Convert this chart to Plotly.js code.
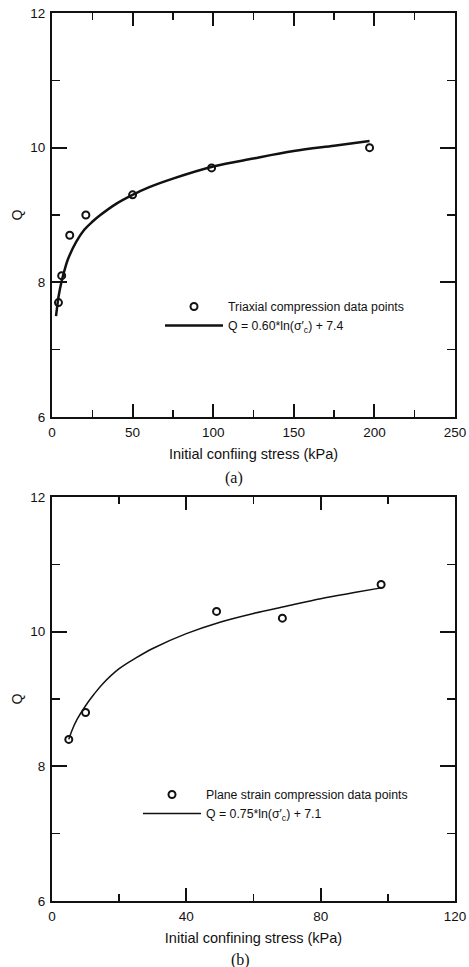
<!DOCTYPE html>
<html>
<head>
<meta charset="utf-8">
<script src="https://cdn.plot.ly/plotly-3.0.1.min.js"></script>
<style>
html,body{margin:0;padding:0;background:#fff;}
#chart{width:469px;height:967px;}
</style>
</head>
<body>
<div id="chart"></div>
<script>
// Panel (a): triaxial compression
const triaxStress = [4, 6, 11, 21, 50, 99, 197];
const triaxQ = [7.7, 8.1, 8.7, 9.0, 9.3, 9.7, 10.0];
const triaxFitStress = [2.5, 3, 4, 6, 8, 10, 15, 20, 25, 30, 40, 50, 60, 75, 100, 125, 150, 175, 197];
const triaxFitQ = [7.5, 7.6, 7.78, 8.02, 8.2, 8.35, 8.6, 8.78, 8.9, 9.0, 9.17, 9.3, 9.41, 9.54, 9.72, 9.84, 9.95, 10.03, 10.1];
const triaxName = "Triaxial compression data points";
const triaxFitName = "Q = 0.60*ln(σ′<sub>c</sub>) + 7.4";

// Panel (b): plane strain compression
const planeStress = [5, 10, 49, 68.6, 98];
const planeQ = [8.4, 8.8, 10.3, 10.2, 10.7];
const planeFitStress = [5, 6, 7.5, 10, 12.5, 15, 20, 25, 30, 40, 50, 60, 70, 80, 90, 98];
const planeFitQ = [8.4, 8.54, 8.7, 8.9, 9.07, 9.22, 9.45, 9.61, 9.75, 9.97, 10.14, 10.27, 10.38, 10.49, 10.58, 10.65];
const planeName = "Plane strain compression data points";
const planeFitName = "Q = 0.75*ln(σ′<sub>c</sub>) + 7.1";

const xTitleA = "Initial confiing stress (kPa)";
const xTitleB = "Initial confining stress (kPa)";
const yTitle = "Q";

const FONT = "Liberation Sans, Arial, sans-serif";
const INK = "#111";

const markerStyle = {symbol: "circle-open", size: 7, color: INK, line: {width: 2, color: INK}};

const traces = [
  {x: triaxStress, y: triaxQ, type: "scatter", mode: "markers", name: triaxName,
   marker: markerStyle, xaxis: "x", yaxis: "y", legend: "legend"},
  {x: triaxFitStress, y: triaxFitQ, type: "scatter", mode: "lines", name: triaxFitName,
   line: {color: INK, width: 2.5, shape: "spline", smoothing: 1}, xaxis: "x", yaxis: "y", legend: "legend"},
  {x: planeStress, y: planeQ, type: "scatter", mode: "markers", name: planeName,
   marker: markerStyle, xaxis: "x2", yaxis: "y2", legend: "legend2"},
  {x: planeFitStress, y: planeFitQ, type: "scatter", mode: "lines", name: planeFitName,
   line: {color: INK, width: 1.5, shape: "spline", smoothing: 1}, xaxis: "x2", yaxis: "y2", legend: "legend2"}
];

function xAxis(range, dtick, minorDtick, anchor, title) {
  return {
    range: range, dtick: dtick, tick0: 0, domain: [0, 1], anchor: anchor,
    ticks: "inside", ticklen: 13, tickwidth: 2, tickcolor: INK,
    minor: {dtick: minorDtick, ticks: "inside", ticklen: 7, tickwidth: 1.5, tickcolor: INK, showgrid: false},
    showline: true, linewidth: 2, linecolor: INK, mirror: "ticks",
    showgrid: false, zeroline: false,
    ticklabelstandoff: 2,
    tickfont: {family: FONT, size: 13.5, color: INK},
    title: {text: title, font: {family: FONT, size: 14.5, color: INK}, standoff: 10},
    automargin: false
  };
}
function yAxis(domain, anchor) {
  return {
    range: [6, 12], dtick: 2, tick0: 0, domain: domain, anchor: anchor,
    ticks: "inside", ticklen: 15, tickwidth: 2, tickcolor: INK,
    minor: {dtick: 1, ticks: "inside", ticklen: 8, tickwidth: 1.5, tickcolor: INK, showgrid: false},
    showline: true, linewidth: 2, linecolor: INK, mirror: "ticks",
    showgrid: false, zeroline: false,
    ticklabelstandoff: 2,
    tickfont: {family: FONT, size: 13.5, color: INK},
    title: {text: yTitle, font: {family: FONT, size: 14, color: INK}, standoff: 4},
    automargin: false
  };
}

const layout = {
  width: 469, height: 967,
  margin: {l: 52, r: 14, t: 13, b: 66},
  paper_bgcolor: "#fff", plot_bgcolor: "#fff",
  showlegend: true,
  xaxis: xAxis([0, 250], 50, 25, "y", xTitleA),
  yaxis: yAxis([0.545, 1], "x"),
  xaxis2: xAxis([0, 120], 40, 20, "y2", xTitleB),
  yaxis2: yAxis([0, 0.455], "x2"),
  legend: {x: (160 - 52) / 403, y: 1 - (292 - 13) / 888, xanchor: "left", yanchor: "top", bgcolor: "rgba(0,0,0,0)",
           itemwidth: 58, font: {family: FONT, size: 12.3, color: INK}, traceorder: "normal"},
  legend2: {x: (138 - 52) / 403, y: 1 - (780 - 13) / 888, xanchor: "left", yanchor: "top", bgcolor: "rgba(0,0,0,0)",
           itemwidth: 58, font: {family: FONT, size: 12.3, color: INK}, traceorder: "normal"},
  annotations: [
    {text: "(a)", xref: "paper", yref: "paper", x: (234 - 52) / 403, y: 1 - (478 - 13) / 888, xanchor: "center", yanchor: "middle",
     showarrow: false, font: {family: "Liberation Serif, Times New Roman, serif", size: 16, color: INK}},
    {text: "(b)", xref: "paper", yref: "paper", x: (240 - 52) / 403, y: 1 - (960 - 13) / 888, xanchor: "center", yanchor: "middle",
     showarrow: false, font: {family: "Liberation Serif, Times New Roman, serif", size: 16, color: INK}}
  ]
};

Plotly.newPlot("chart", traces, layout, {displayModeBar: false, staticPlot: true});
</script>
</body>
</html>
